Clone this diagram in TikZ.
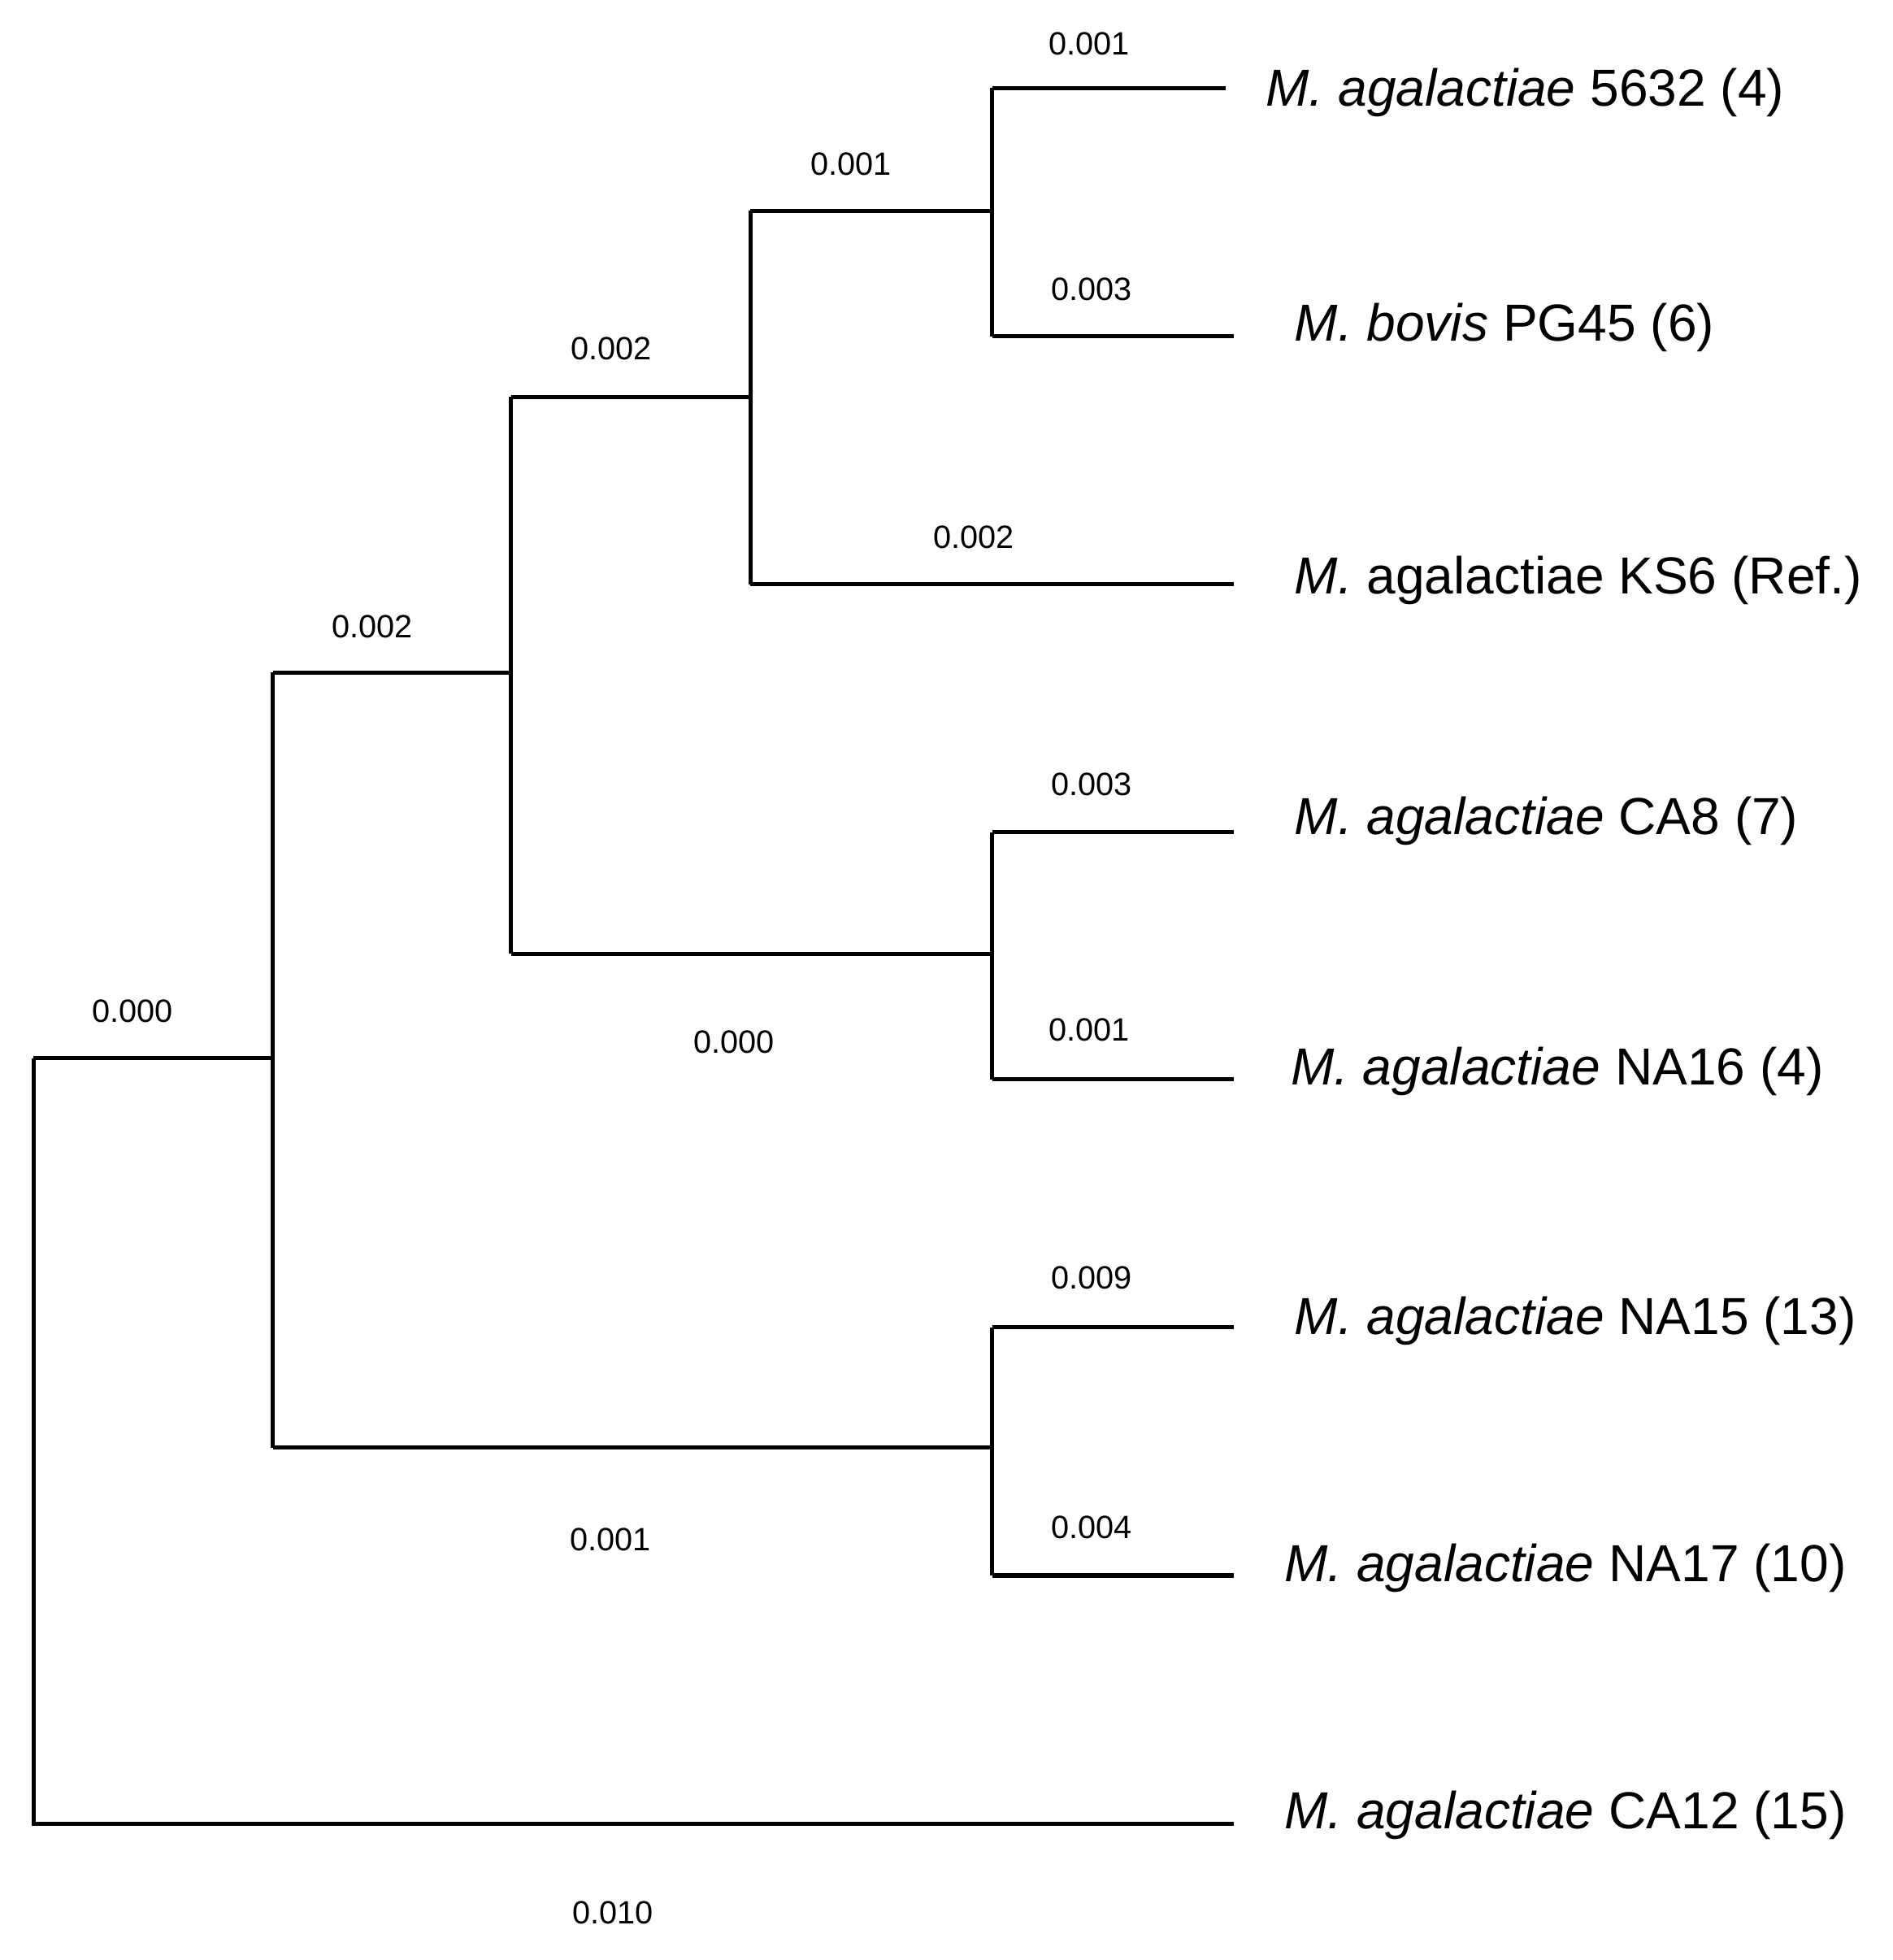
\documentclass[tikz,border=0pt]{standalone}
\usepackage{fontspec}
\setmainfont{Liberation Sans}
\begin{document}
\begin{tikzpicture}[x=0.3pt,y=-0.3pt,
  br/.style={line width=1.0pt},
  num/.style={font=\fontsize{7.8}{9}\selectfont},
  tax/.style={anchor=west,font=\fontsize{12.6}{14}\selectfont,inner sep=0}]
\useasboundingbox (0,0) rectangle (1526,1580);
\coordinate (R) at (27,853); \coordinate (Rt) at (27,1470);
\coordinate (A) at (220,853);
\coordinate (At) at (220,542); \coordinate (Ab) at (220,1167);
\coordinate (Bt) at (412,320); \coordinate (Bb) at (412,769);
\coordinate (Ct) at (605,170); \coordinate (Cb) at (605,471);
\coordinate (Dt) at (800,71); \coordinate (Db) at (800,271);
\coordinate (Et) at (800,671); \coordinate (Eb) at (800,870);
\coordinate (Ft) at (800,1070); \coordinate (Fb) at (800,1270);
\node[tax] (t1) at (1020,75) {\textit{M. agalactiae} 5632 (4)};
\node[tax] (t2) at (1043,264) {\textit{M. bovis} PG45 (6)};
\node[tax] (t3) at (1043,468) {\textit{M.} agalactiae KS6 (Ref.)};
\node[tax] (t4) at (1043,662) {\textit{M. agalactiae} CA8 (7)};
\node[tax] (t5) at (1040,864) {\textit{M. agalactiae} NA16 (4)};
\node[tax] (t6) at (1043,1065) {\textit{M. agalactiae} NA15 (13)};
\node[tax] (t7) at (1035,1264) {\textit{M. agalactiae} NA17 (10)};
\node[tax] (t8) at (1035,1463) {\textit{M. agalactiae} CA12 (15)};
\draw[br] (R) -- (Rt) -- (995,1470);
\draw[br] (R) -- (A);
\draw[br] (At) -- (Ab);
\draw[br] (At) -- (412,542) (Bt) -- (Bb);
\draw[br] (Bt) -- (605,320) (Ct) -- (Cb);
\draw[br] (Ct) -- (800,170) (Dt) -- (Db);
\draw[br] (Dt) -- (988,71) (Db) -- (995,271);
\draw[br] (Cb) -- (995,471);
\draw[br] (Bb) -- (800,769) (Et) -- (Eb);
\draw[br] (Et) -- (995,671) (Eb) -- (995,870);
\draw[br] (Ab) -- (800,1167) (Ft) -- (Fb);
\draw[br] (Ft) -- (995,1070) (Fb) -- (995,1270);
\node[num] (n1) at (878,35) {0.001};
\node[num] (n2) at (686,132) {0.001};
\node[num] (n3) at (880,233) {0.003};
\node[num] (n4) at (493,281) {0.002};
\node[num] (n5) at (785,433) {0.002};
\node[num] (n6) at (300,505) {0.002};
\node[num] (n7) at (880,632) {0.003};
\node[num] (n8) at (107,815) {0.000};
\node[num] (n9) at (592,840) {0.000};
\node[num] (n10) at (878,830) {0.001};
\node[num] (n11) at (880,1030) {0.009};
\node[num] (n12) at (880,1231) {0.004};
\node[num] (n13) at (492,1241) {0.001};
\node[num] (n14) at (494,1542) {0.010};
\end{tikzpicture}
\end{document}
